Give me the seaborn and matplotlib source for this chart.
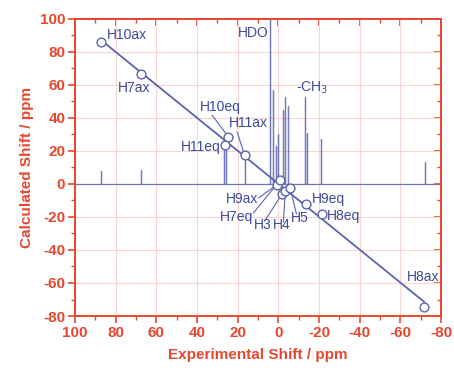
import numpy as np
import pandas as pd
import matplotlib
matplotlib.use("Agg")
import matplotlib.pyplot as plt
import seaborn as sns

# ---- data ----
labels = ["H10ax", "H7ax", "H10eq", "H11eq", "H11ax", "H9ax", "H7eq", "H3", "H4", "H5",
          "H9eq", "H8eq", "H8ax"]
exp_shift = [87.2, 67.5, 24.7, 26.4, 16.6, 0.8, -1.0, -1.8, -3.4, -5.9, -13.8, -21.5, -71.8]
calc_shift = [86.0, 66.7, 28.5, 23.8, 17.4, -0.5, 2.5, -6.1, -4.2, -2.6, -12.3, -18.4, -74.7]

peak_pos = [87.2, 67.7, 26.5, 25.5, 16.6, 4.3, 2.6, 1.1, 0.4, -2.1, -3.1, -4.6, -12.9, -14.1, -21.0, -72.0]
peak_height = [8, 8.5, 22, 23, 18, 150, 57, 23, 30, 45, 53, 47, 53, 31, 27, 13.5]

x_ticks = [100, 80, 60, 40, 20, 0, -20, -40, -60, -80]
y_ticks = [100, 80, 60, 40, 20, 0, -20, -40, -60, -80]

# label positions (data coords) and alignment
label_pos = {
    "H10ax": (84.3, 90.3, "left"), "H7ax": (79.0, 58.0, "left"),
    "H10eq": (38.4, 46.5, "left"), "H11ax": (24.4, 36.8, "left"),
    "H11eq": (28.5, 22.6, "right"), "H9ax": (9.7, -9.1, "right"),
    "H7eq": (12.4, -19.8, "right"), "H3": (11.8, -24.8, "left"),
    "H4": (2.6, -24.8, "left"), "H5": (-6.4, -20.8, "left"),
    "H9eq": (-16.6, -9.3, "left"), "H8eq": (-24.0, -19.4, "left"),
    "H8ax": (-63.0, -56.5, "left"),
}
leaders = {
    "H10eq": ((32.6, 41.8), (25.6, 30.3)),
    "H11ax": ((20.3, 31.7), (17.1, 19.4)),
    "H9ax": ((9.8, -8.5), (0.8, -0.5)),
    "H7eq": ((12.3, -17.6), (-1.0, 2.5)),
    "H3": ((6.4, -21.8), (-1.8, -6.1)),
    "H4": ((-2.5, -23.0), (-3.4, -4.2)),
    "H5": ((-8.9, -18.2), (-5.9, -2.6)),
}

RED = "#e5482f"
BLUE = "#5a64ad"
TXT = "#3d4a9c"
GRID = "#f7d6d0"

sns.set_theme(style="white")
plt.rcParams["font.family"] = ["Liberation Sans", "DejaVu Sans"]
plt.rcParams["axes.unicode_minus"] = False

fig = plt.figure(figsize=(4.54, 3.77), dpi=100)
ax = fig.add_axes([75 / 454, 1 - 316 / 377, 366 / 454, 297 / 377])

# stick spectrum as one continuous path
sx, sy = [100.0], [0.0]
for p, h in sorted(zip(peak_pos, peak_height), key=lambda t: -t[0]):
    sx += [p, p, p]
    sy += [0.0, h, 0.0]
sx.append(-80.0)
sy.append(0.0)
spec = pd.DataFrame({"x": sx, "y": sy})
sns.lineplot(data=spec, x="x", y="y", sort=False, estimator=None, ax=ax,
             color=BLUE, lw=0.9, alpha=0.85)

pts = pd.DataFrame({"exp": exp_shift, "calc": calc_shift})
sns.regplot(data=pts, x="exp", y="calc", ci=None, scatter=False, ax=ax,
            line_kws=dict(color=BLUE, lw=1.3))
sns.scatterplot(data=pts, x="exp", y="calc", ax=ax, marker="o", s=40,
                facecolor="white", edgecolor=BLUE, linewidth=1.0, zorder=5)

for lab in labels:
    x, y, ha = label_pos[lab]
    ax.text(x, y, lab, ha=ha, va="center", color=TXT, fontsize=10)
for lab, (a, b) in leaders.items():
    ax.plot([a[0], b[0]], [a[1], b[1]], color=BLUE, lw=0.8)
ax.text(4.6, 91.5, "HDO", ha="right", va="center", color=TXT, fontsize=10)
ax.text(-8.9, 58.6, "-CH$_3$", ha="left", va="center", color=TXT, fontsize=10)

ax.set_xlim(100, -80)
ax.set_ylim(-80, 100)
ax.set_xticks(x_ticks)
ax.set_yticks(y_ticks)
ax.set_xticks(np.arange(-70, 100, 20), minor=True)
ax.set_yticks(np.arange(-70, 100, 20), minor=True)
ax.grid(True, which="major", color=GRID, lw=0.8)
ax.set_axisbelow(True)

for s in ax.spines.values():
    s.set_color(RED)
    s.set_linewidth(1.4)
ax.tick_params(axis="both", which="major", direction="out", length=5, width=1.2,
               color=RED, labelcolor=RED, labelsize=11, pad=2)
ax.tick_params(axis="both", which="minor", direction="out", length=3, width=1.0,
               color=RED)
ax.tick_params(bottom=True, left=True, which="both")
for t in ax.get_xticklabels() + ax.get_yticklabels():
    t.set_fontweight("bold")

top = ax.secondary_xaxis("top")
top.set_xticks(x_ticks)
top.set_xticks(np.arange(-70, 100, 20), minor=True)
top.tick_params(which="major", direction="in", length=5, width=1.2, color=RED, labeltop=False)
top.tick_params(which="minor", direction="in", length=3, width=1.0, color=RED)
top.spines["top"].set_color(RED)
right = ax.secondary_yaxis("right")
right.set_yticks(y_ticks)
right.set_yticks(np.arange(-70, 100, 20), minor=True)
right.tick_params(which="major", direction="in", length=5, width=1.2, color=RED, labelright=False)
right.tick_params(which="minor", direction="in", length=3, width=1.0, color=RED)
right.spines["right"].set_color(RED)

ax.set_xlabel("Experimental Shift / ppm", color=RED, fontsize=11, fontweight="bold", labelpad=6)
ax.set_ylabel("Calculated Shift / ppm", color=RED, fontsize=11, fontweight="bold", labelpad=4)

fig.savefig("out.png", dpi=100)
